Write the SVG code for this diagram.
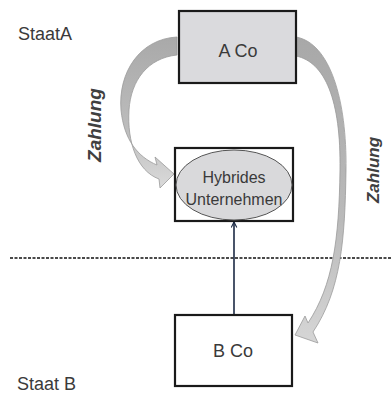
<svg xmlns="http://www.w3.org/2000/svg" width="392" height="393" viewBox="0 0 392 393">
<defs>
<style>
.lbl{font-family:"Liberation Sans","Open Sans",sans-serif;fill:#3a3a3a;}
.box{stroke:#1a1a1a;stroke-width:2.2;}
.pay{font-family:"Liberation Sans","Open Sans",sans-serif;font-style:italic;font-weight:bold;fill:#404040;text-anchor:middle;}
.flow{stroke:#9a9a9a;stroke-width:0.8;}
</style>
<linearGradient id="gL" x1="0" y1="0" x2="0" y2="1">
<stop offset="0" stop-color="#a9a9a9"/>
<stop offset="0.6" stop-color="#bcbcbc"/>
<stop offset="1" stop-color="#dadada"/>
</linearGradient>
<linearGradient id="gR" x1="0" y1="0" x2="0" y2="1">
<stop offset="0" stop-color="#a8a8a8"/>
<stop offset="0.6" stop-color="#bababa"/>
<stop offset="1" stop-color="#d6d6d6"/>
</linearGradient>
<marker id="arr" viewBox="0 0 10 10" refX="9" refY="5" markerWidth="7" markerHeight="7" orient="auto" markerUnits="userSpaceOnUse">
<path d="M1,1 L9,5 L1,9" fill="none" stroke="#1c2a44" stroke-width="1.6"/>
</marker>
</defs>
<rect width="392" height="393" fill="#ffffff"/>
<g id="region-line">
<line x1="10" y1="258" x2="392" y2="258" stroke="#4a4a4a" stroke-width="1.8" stroke-dasharray="3 1.5"/>
</g>
<text class="lbl" x="18" y="40" font-size="18">StaatA</text>
<text class="lbl" x="17" y="390" font-size="18">Staat B</text>
<g id="connectors">
<path id="pay-left" class="flow" fill="url(#gL)" d="M177 37 C140 39 118 72 121 110 C124 140 138 157 157 165 L155 157 L174 174 L160 188 L159 179 C137 171 127 142 129 110 C131 80 148 58 177 55 Z"/>
<path id="pay-right" class="flow" fill="url(#gR)" d="M296 37 C330 43 347 100 346 170 C345 240 341 290 313 332 L318 343 L295 335 L305 316 L308 323 C333 285 339 240 340 170 C341 100 325 62 296 56 Z"/>
<line id="own" x1="234" y1="315" x2="234" y2="222" stroke="#1c2a44" stroke-width="1.6" marker-end="url(#arr)"/>
</g>
<g id="aco">
<rect class="box" x="179" y="11" width="117" height="72" fill="#dadadd"/>
<text class="lbl" x="238" y="57" font-size="18" text-anchor="middle">A Co</text>
</g>
<g id="hybrid">
<rect class="box" x="175" y="148" width="118" height="73" fill="#ffffff"/>
<ellipse cx="234" cy="185" rx="58" ry="35" fill="#d9d9db" stroke="#555" stroke-width="1"/>
<text class="lbl" x="234" y="183" font-size="16" text-anchor="middle">Hybrides</text>
<text class="lbl" x="234" y="205" font-size="16" text-anchor="middle">Unternehmen</text>
</g>
<g id="bco">
<rect class="box" x="175" y="315" width="117" height="71" fill="#ffffff"/>
<text class="lbl" x="233" y="357" font-size="18" text-anchor="middle">B Co</text>
</g>
<text class="pay" font-size="19" transform="translate(101 125) rotate(-90)">Zahlung</text>
<text class="pay" font-size="17" transform="translate(379 170) rotate(-90)">Zahlung</text>
</svg>
